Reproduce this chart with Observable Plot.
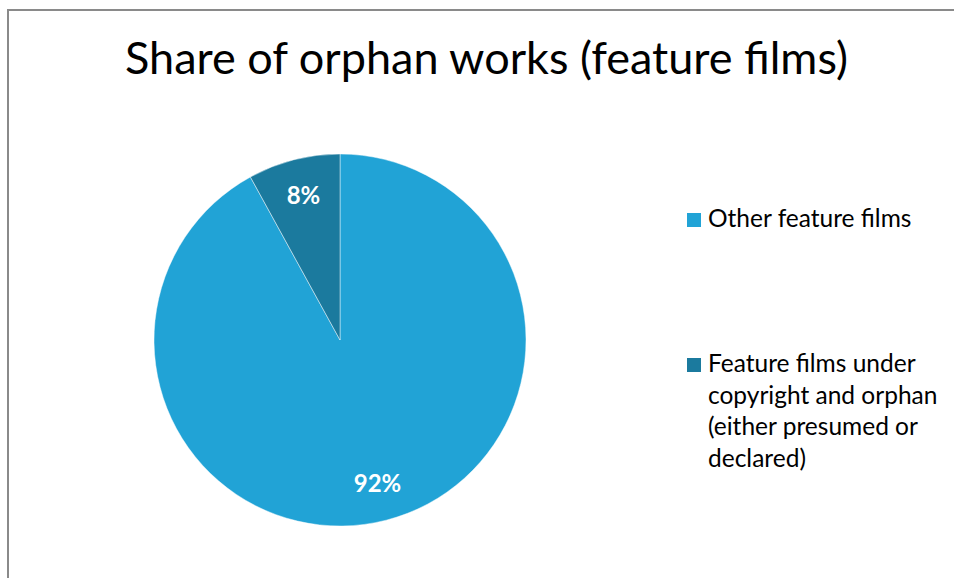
<!DOCTYPE html>
<html>
<head>
<meta charset="utf-8">
<script src="https://cdn.jsdelivr.net/npm/d3@7"></script>
<script src="https://cdn.jsdelivr.net/npm/@observablehq/plot@0.6"></script>
<style>
  html, body { margin: 0; padding: 0; background: #fff; }
  #wrap { position: relative; width: 954px; height: 578px; overflow: hidden; font-family: Lato, "Open Sans", sans-serif; color: #000; }
  #chart { position: absolute; left: 0; top: 0; }
  #frame { position: absolute; left: 7px; top: 9px; width: 1000px; height: 640px; border: 2px solid #8a8a8a; box-sizing: border-box; pointer-events: none; }
  #title { position: absolute; left: 0; top: 35px; width: 973px; text-align: center; font-size: 45px; line-height: 45px; white-space: nowrap; }
  .leg { position: absolute; left: 687px; font-size: 24.5px; line-height: 31.5px; white-space: nowrap; }
  .leg .sw { position: absolute; left: 0; width: 14px; height: 14px; }
  .leg .tx { position: absolute; left: 21px; top: 0; }
</style>
</head>
<body>
<div id="wrap">
  <div id="chart"></div>
  <div id="frame"></div>
  <div id="title">Share of orphan works (feature films)</div>
  <div id="legend"></div>
</div>
<script>
// ---- data ----
const categories = ["Other feature films", "Feature films under copyright and orphan (either presumed or declared)"];
const legendLines = [["Other feature films"], ["Feature films under", "copyright and orphan", "(either presumed or", "declared)"]];
const shares = [92, 8];
const labels = ["92%", "8%"];
const colors = ["#21a3d6", "#1b7a9e"];

const data = categories.map((c, i) => ({category: c, value: shares[i], label: labels[i]}));
const arcs = d3.pie().sort(null).value(d => d.value).startAngle(0).endAngle(2 * Math.PI)(data);

const color = Plot.scale({color: {type: "ordinal", domain: categories, range: colors}});

const labelR = 0.8;
const labelData = arcs.map(a => {
  const m = (a.startAngle + a.endAngle) / 2;
  return {label: a.data.label, x: labelR * Math.sin(m), y: labelR * Math.cos(m)};
});

function pieMark(arcs) {
  return (index, scales, values, dimensions) => {
    let cx, cy, r;
    if (scales && scales.x && scales.y) {
      cx = scales.x(0); cy = scales.y(0); r = scales.x(1) - scales.x(0);
    } else {
      const {width, height, marginLeft, marginRight, marginTop, marginBottom} = dimensions;
      cx = (marginLeft + width - marginRight) / 2;
      cy = (marginTop + height - marginBottom) / 2;
      r = (width - marginRight - marginLeft) / 2;
    }
    const arc = d3.arc().innerRadius(0).outerRadius(r);
    const g = d3.create("svg:g").attr("transform", `translate(${cx},${cy})`);
    g.selectAll("path").data(arcs).join("path")
      .attr("d", arc)
      .attr("fill", d => color.apply(d.data.category))
      .attr("stroke", "rgba(255,255,255,0.45)")
      .attr("stroke-width", 1);
    return g.node();
  };
}

const plot = Plot.plot({
  width: 954,
  height: 578,
  marginLeft: 154,
  marginRight: 428,
  marginTop: 154,
  marginBottom: 52,
  x: {domain: [-1, 1], axis: null},
  y: {domain: [-1, 1], axis: null},
  style: {background: "none", overflow: "visible", fontFamily: "Lato, 'Open Sans', sans-serif"},
  marks: [
    pieMark(arcs),
    Plot.text(labelData, {x: "x", y: "y", text: "label", fill: "white", fontWeight: "bold", fontSize: 24})
  ]
});
document.getElementById("chart").appendChild(plot);

// legend
const legendTops = [202, 347];
const legend = document.getElementById("legend");
categories.forEach((c, i) => {
  const item = document.createElement("div");
  item.className = "leg";
  item.style.top = legendTops[i] + "px";
  const sw = document.createElement("div");
  sw.className = "sw";
  sw.style.background = color.apply(c);
  sw.style.top = "11px";
  const tx = document.createElement("div");
  tx.className = "tx";
  tx.innerHTML = legendLines[i].join("<br>");
  item.appendChild(sw);
  item.appendChild(tx);
  legend.appendChild(item);
});
</script>
</body>
</html>
